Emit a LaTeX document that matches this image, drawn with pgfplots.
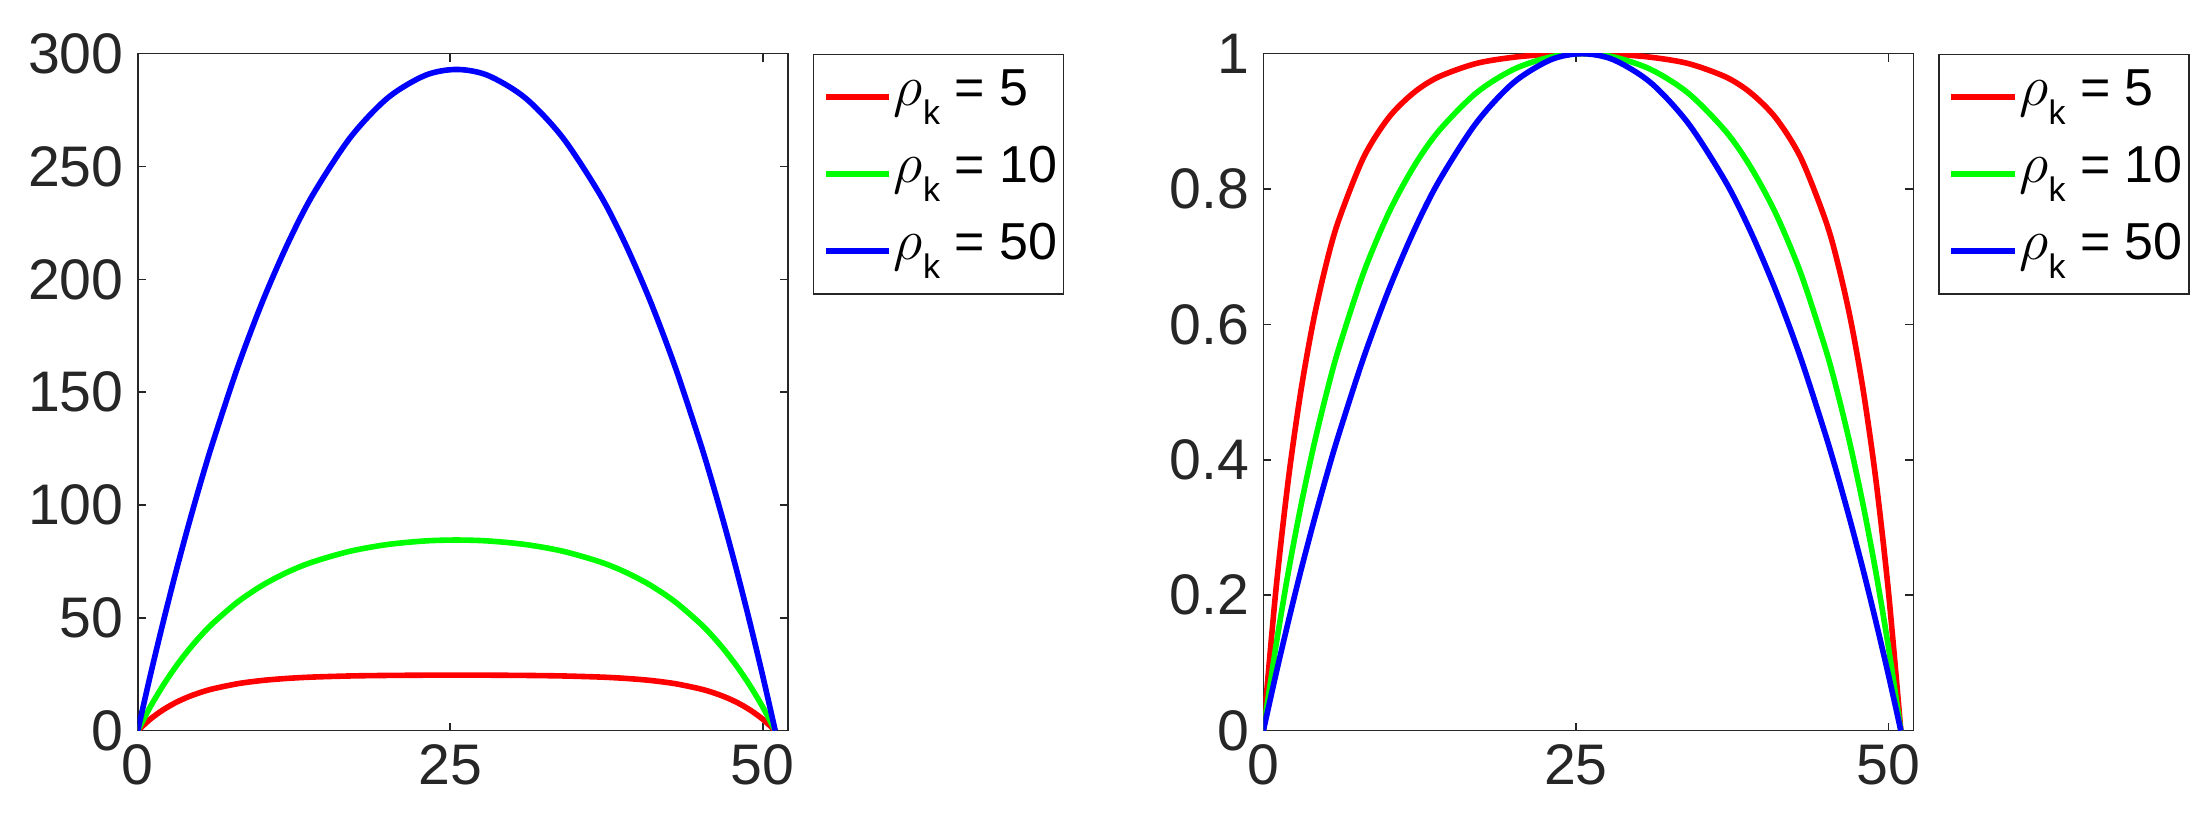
\documentclass[border=0pt]{standalone}
\usepackage{fontspec}
\setmainfont{Liberation Sans}
\usepackage{pgfplots}
\pgfplotsset{compat=1.18}
\definecolor{axc}{RGB}{38,38,38}
\definecolor{mred}{RGB}{255,0,0}
\definecolor{mgreen}{RGB}{0,255,0}
\definecolor{mblue}{RGB}{0,0,255}
\newcommand{\rk}[1]{\makebox[40pt][l]{{\fontsize{14.5}{14}\selectfont$\rho$}\raisebox{-4.75pt}{\fontsize{8.5}{9}\selectfont k} = #1}}
\pgfplotsset{
  mystyle/.style={
    scale only axis, width=162.5pt, height=169.25pt,
    xmin=0, xmax=52, xtick={0,25,50},
    tick align=inside, xtick pos=both, ytick pos=both,
    major tick length=2pt,
    axis line style={axc, line width=0.4pt},
    every tick/.style={axc, line width=0.4pt},
    tick label style={font=\fontsize{14.3}{16}\selectfont, text=axc},
    /pgf/number format/assume math mode=true,
    legend cell align=left,
    legend style={at={(1.0385,1)}, anchor=north west, draw=axc, line width=0.4pt,
      font=\fontsize{13}{14}\selectfont, inner xsep=2.35pt, inner ysep=3.6pt,
      row sep=5.05pt, column sep=0.5pt,
      nodes={inner sep=0pt, text height=9.2pt, text depth=5pt}},
    legend image code/.code={\draw[##1, line width=1.4pt] (0pt,0pt) -- (15.85pt,0pt);},
    every axis plot/.append style={line width=1.4pt, smooth, tension=0.5},
  }
}
\begin{document}
\begin{tikzpicture}
\path[use as bounding box] (0,0) rectangle (552.75pt,203pt);
\begin{axis}[mystyle, at={(34.43pt,20.33pt)}, anchor=south west,
  ymin=0, ymax=300, ytick={0,50,100,150,200,250,300}]
\addplot[mred] coordinates {(0,0) (1,5.09) (2,9.13) (3,12.34) (4,14.89) (5,16.91) (6,18.52) (8,20.82) (10,22.27) (12,23.18) (14,23.76) (17,24.25) (20,24.48) (23,24.59) (25.5,24.61) (28,24.59) (31,24.48) (34,24.25) (37,23.76) (39,23.18) (41,22.27) (43,20.82) (45,18.52) (46,16.91) (47,14.89) (48,12.34) (49,9.13) (50,5.09) (51,0)};
\addlegendentry{\rk{5}}
\addplot[mgreen] coordinates {(0,0) (1,10.49) (2,19.79) (3,28.02) (4,35.32) (5,41.79) (6,47.51) (8,57.06) (10,64.51) (12,70.30) (14,74.77) (17,79.54) (20,82.51) (23,84.08) (25.5,84.48) (28,84.08) (31,82.51) (34,79.54) (37,74.77) (39,70.30) (41,64.51) (43,57.06) (45,47.51) (46,41.79) (47,35.32) (48,28.02) (49,19.79) (50,10.49) (51,0)};
\addlegendentry{\rk{10}}
\addplot[mblue] coordinates {(0,0) (1,24.3) (2,47.3) (3,69.2) (4,89.8) (5,109.3) (6,127.6) (8,161.1) (10,190.4) (12,215.8) (14,237.4) (17,262.8) (20,280.4) (23,290.4) (25.5,293.0) (28,290.4) (31,280.4) (34,262.8) (37,237.4) (39,215.8) (41,190.4) (43,161.1) (45,127.6) (46,109.3) (47,89.8) (48,69.2) (49,47.3) (50,24.3) (51,0)};
\addlegendentry{\rk{50}}
\end{axis}
\begin{axis}[mystyle, at={(315.83pt,20.33pt)}, anchor=south west,
  ymin=0, ymax=1, ytick={0,0.2,0.4,0.6,0.8,1}]
\addplot[mred] coordinates {(0,0) (1,0.2068) (2,0.3710) (3,0.5014) (4,0.6050) (5,0.6871) (6,0.7525) (8,0.8460) (10,0.9049) (12,0.9419) (14,0.9655) (17,0.9854) (20,0.9947) (23,0.9992) (25.5,1) (28,0.9992) (31,0.9947) (34,0.9854) (37,0.9655) (39,0.9419) (41,0.9049) (43,0.8460) (45,0.7525) (46,0.6871) (47,0.6050) (48,0.5014) (49,0.3710) (50,0.2068) (51,0)};
\addlegendentry{\rk{5}}
\addplot[mgreen] coordinates {(0,0) (1,0.1242) (2,0.2343) (3,0.3317) (4,0.4181) (5,0.4947) (6,0.5624) (8,0.6754) (10,0.7636) (12,0.8321) (14,0.8851) (17,0.9415) (20,0.9767) (23,0.9953) (25.5,1) (28,0.9953) (31,0.9767) (34,0.9415) (37,0.8851) (39,0.8321) (41,0.7636) (43,0.6754) (45,0.5624) (46,0.4947) (47,0.4181) (48,0.3317) (49,0.2343) (50,0.1242) (51,0)};
\addlegendentry{\rk{10}}
\addplot[mblue] coordinates {(0,0) (1,0.0829) (2,0.1614) (3,0.2362) (4,0.3065) (5,0.3730) (6,0.4355) (8,0.5498) (10,0.6498) (12,0.7365) (14,0.8102) (17,0.8969) (20,0.9570) (23,0.9911) (25.5,1) (28,0.9911) (31,0.9570) (34,0.8969) (37,0.8102) (39,0.7365) (41,0.6498) (43,0.5498) (45,0.4355) (46,0.3730) (47,0.3065) (48,0.2362) (49,0.1614) (50,0.0829) (51,0)};
\addlegendentry{\rk{50}}
\end{axis}
\end{tikzpicture}
\end{document}
